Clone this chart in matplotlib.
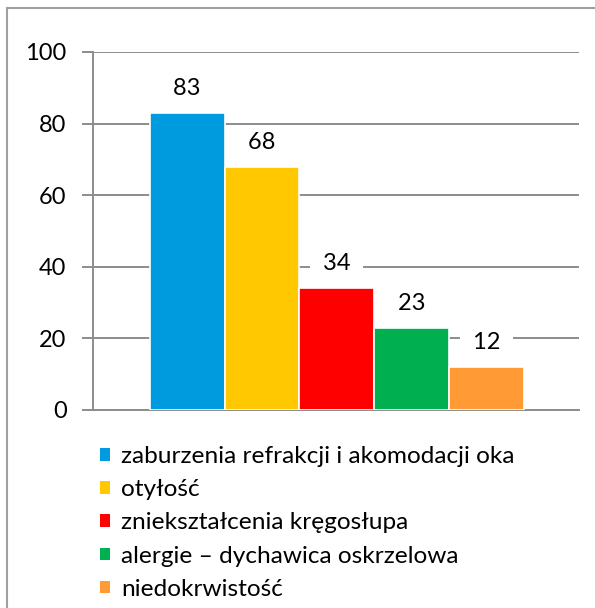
import matplotlib.pyplot as plt
from matplotlib.patches import Patch, Rectangle

plt.rcParams['font.family'] = ['Lato', 'DejaVu Sans']

# dane
choroby = ['zaburzenia refrakcji i akomodacji oka', 'otyłość',
           'zniekształcenia kręgosłupa', 'alergie – dychawica oskrzelowa',
           'niedokrwistość']
wartosci = [83, 68, 34, 23, 12]
kolory = ['#009ADE', '#FFC800', '#FF0000', '#00B050', '#FF9A35']
yticks = [0, 20, 40, 60, 80, 100]

fig = plt.figure(figsize=(5.95, 6.08), dpi=100)
ax = fig.add_axes([93/595, 1-410/608, (579-93)/595, (410-52)/608])

x = list(range(len(wartosci)))
ax.bar(x, wartosci, width=1.0, color=kolory, edgecolor='white', linewidth=1.2, zorder=3)

for xi, v in zip(x, wartosci):
    ax.text(xi, v + 6.8, f'  {v}  ', ha='center', va='center', fontsize=17, zorder=4,
            bbox=dict(facecolor='white', edgecolor='none', pad=0.5))

ax.set_ylim(0, 100)
ax.set_xlim(-1.26, 5.24)
ax.set_yticks(yticks)
ax.set_xticks([])
ax.yaxis.grid(True, color='#8c8c8c', linewidth=1.4, zorder=0)
ax.set_axisbelow(True)
for s in ['top', 'right']:
    ax.spines[s].set_visible(False)
ax.spines['left'].set_color('#8c8c8c')
ax.spines['left'].set_linewidth(1.4)
ax.spines['bottom'].set_color('#8c8c8c')
ax.spines['bottom'].set_linewidth(1.4)
ax.tick_params(axis='y', length=8, width=1.4, color='#8c8c8c', labelsize=17, pad=11)

uchwyty = [Patch(facecolor=k, edgecolor='none') for k in kolory]
fig.legend(uchwyty, choroby, loc='upper left', bbox_to_anchor=(100/595, 1-446/608),
           frameon=False, fontsize=17.6, handlelength=0.42, handleheight=0.42,
           handletextpad=0.45, labelspacing=0.5, borderaxespad=0, borderpad=0)

# ramka wokol wykresu
fig.patches.append(Rectangle((7/595, -0.1), 1.2, 1 - 8.5/608 + 0.1, transform=fig.transFigure,
                             fill=False, edgecolor='#a0a0a0', linewidth=1.5))

fig.savefig('out.png', dpi=100)
